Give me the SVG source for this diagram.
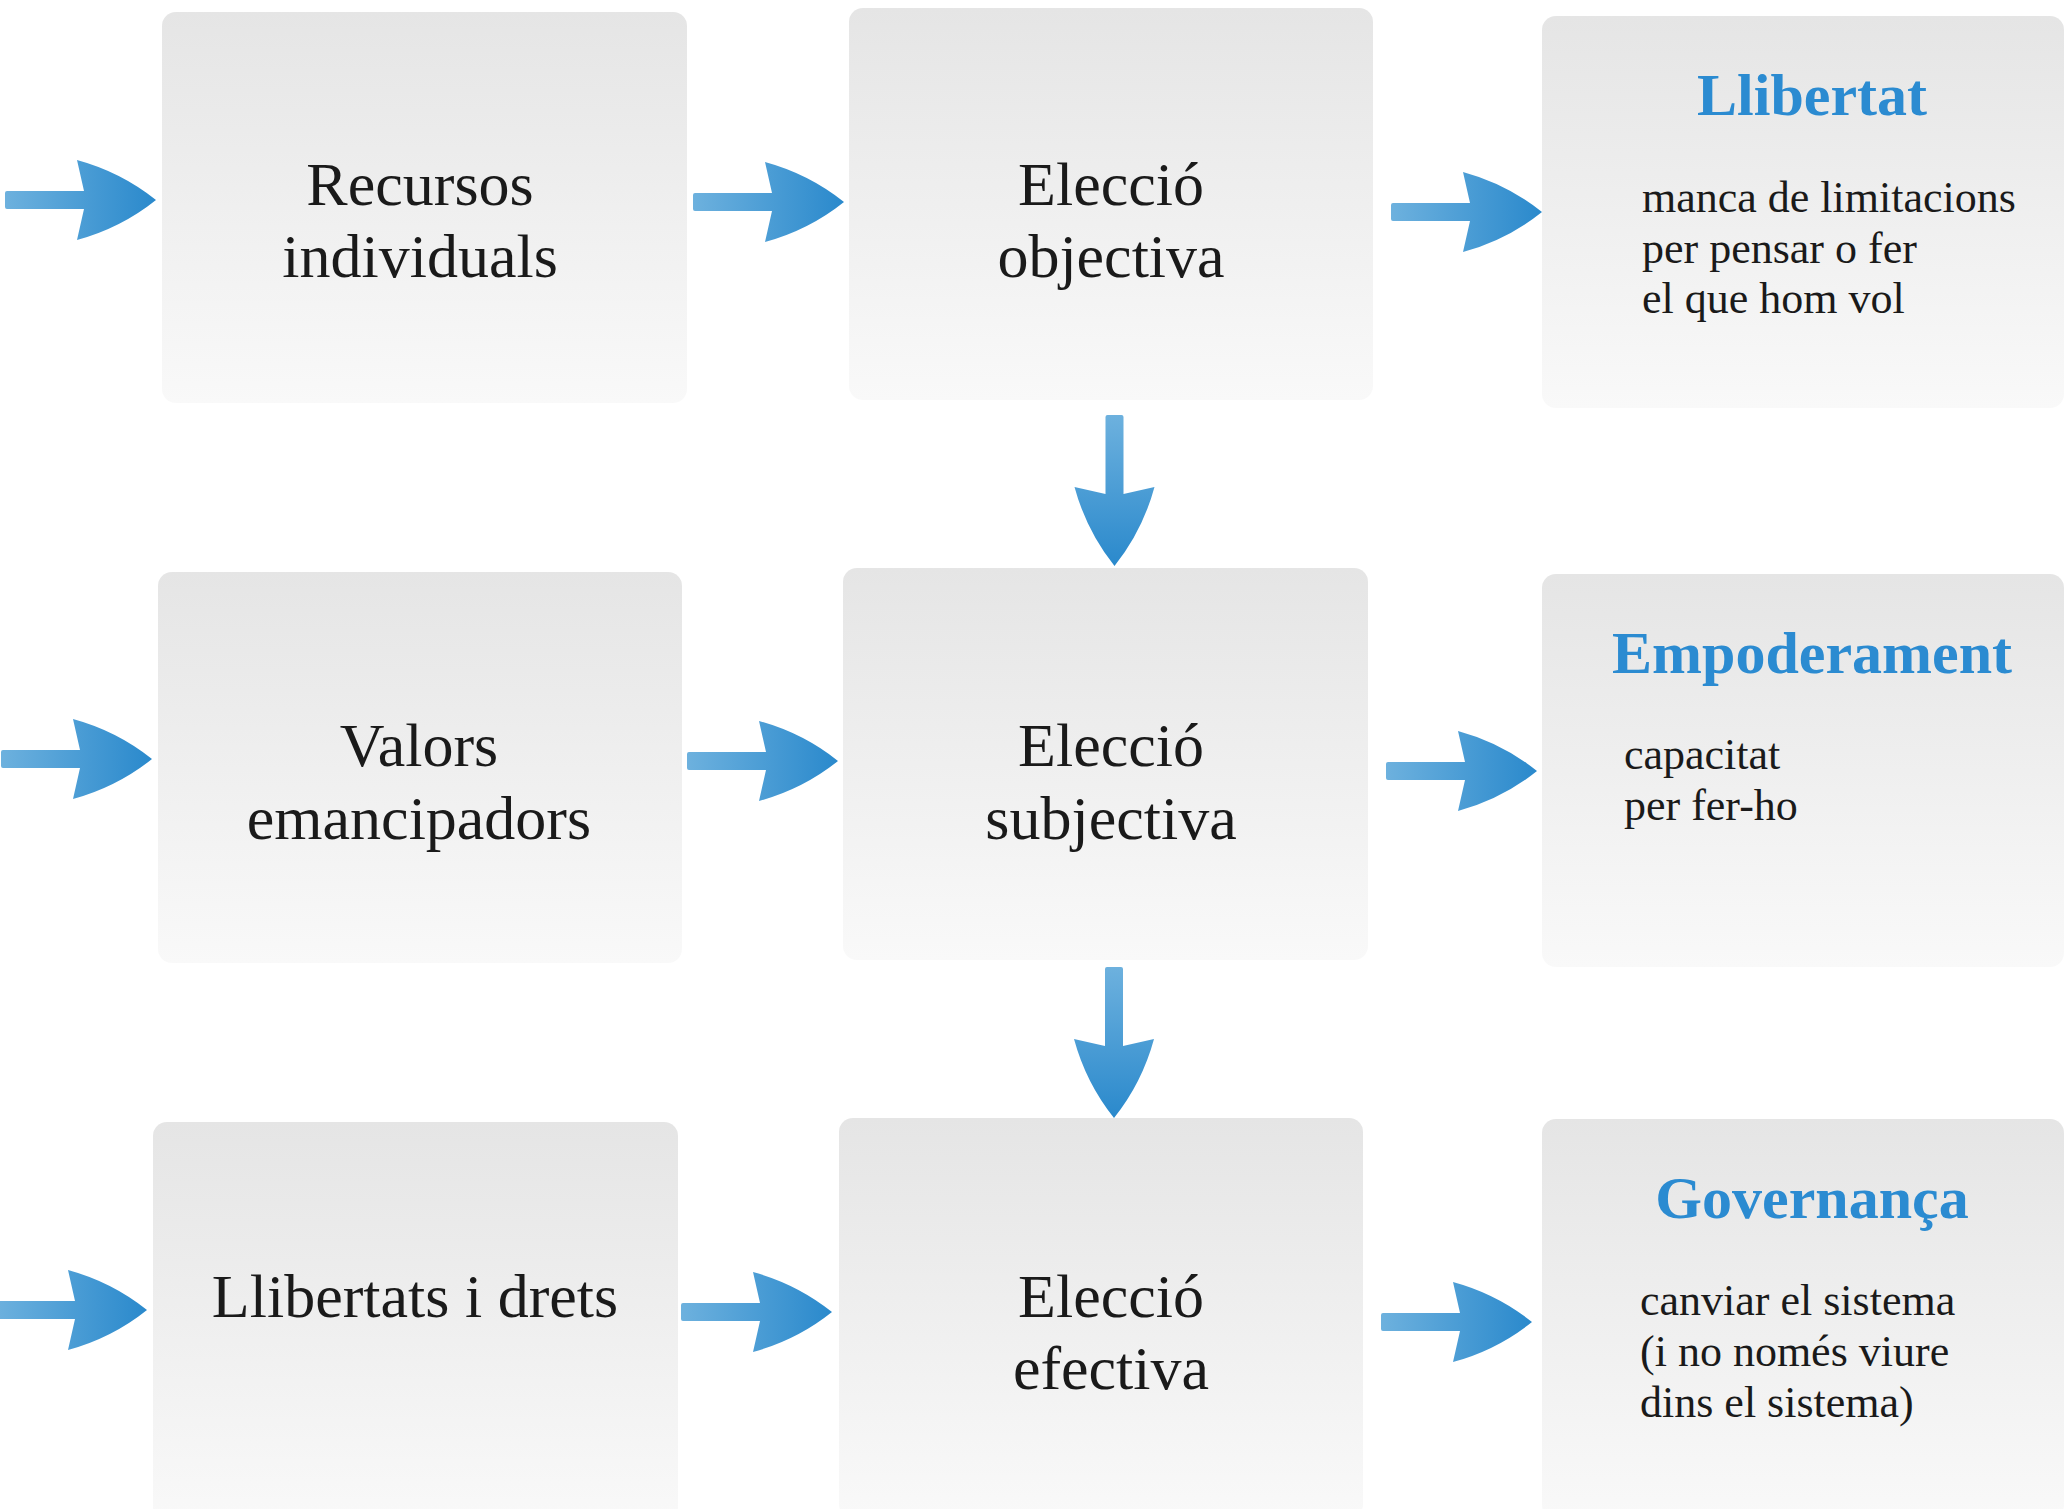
<svg xmlns="http://www.w3.org/2000/svg" width="2065" height="1509" viewBox="0 0 2065 1509">
  <defs>
    <linearGradient id="boxGrad" x1="0" y1="0" x2="0" y2="1">
      <stop offset="0" stop-color="#e5e5e5"/>
      <stop offset="1" stop-color="#f9f9f9"/>
    </linearGradient>
    <linearGradient id="arrowGrad" x1="0" y1="0" x2="1" y2="0">
      <stop offset="0" stop-color="#6db1de"/>
      <stop offset="1" stop-color="#2a89cc"/>
    </linearGradient>
    <path id="arrow" d="M0,-7 Q0,-9 2,-9 L79,-9 L72,-40 Q116,-28 151,0 Q116,28 72,40 L79,9 L2,9 Q0,9 0,7 Z" fill="url(#arrowGrad)"/>
  </defs>
  <style>
    .box { fill: url(#boxGrad); }
    .main { font-family: "Liberation Serif", "Times New Roman", serif; font-size: 62px; fill: #1a1a1a; text-anchor: middle; }
    .title { font-family: "Liberation Serif", "Times New Roman", serif; font-size: 60px; font-weight: bold; fill: #2b8bd1; text-anchor: middle; }
    .desc { font-family: "Liberation Serif", "Times New Roman", serif; font-size: 44px; fill: #1a1a1a; }
  </style>
  <rect width="2065" height="1509" fill="#ffffff"/>

  <g id="recursos">
    <rect class="box" x="162" y="12" width="525" height="391" rx="14"/>
    <text class="main" x="420" y="205">Recursos</text>
    <text class="main" x="420" y="277">individuals</text>
  </g>
  <g id="eleccio-objectiva">
    <rect class="box" x="849" y="8" width="524" height="392" rx="14"/>
    <text class="main" x="1111" y="205">Elecció</text>
    <text class="main" x="1111" y="277">objectiva</text>
  </g>
  <g id="llibertat">
    <rect class="box" x="1542" y="16" width="522" height="392" rx="14"/>
    <text class="title" x="1812" y="115">Llibertat</text>
    <text class="desc" x="1642" y="212">manca de limitacions</text>
    <text class="desc" x="1642" y="263">per pensar o fer</text>
    <text class="desc" x="1642" y="313">el que hom vol</text>
  </g>

  <g id="valors">
    <rect class="box" x="158" y="572" width="524" height="391" rx="14"/>
    <text class="main" x="419" y="766">Valors</text>
    <text class="main" x="419" y="839">emancipadors</text>
  </g>
  <g id="eleccio-subjectiva">
    <rect class="box" x="843" y="568" width="525" height="392" rx="14"/>
    <text class="main" x="1111" y="766">Elecció</text>
    <text class="main" x="1111" y="839">subjectiva</text>
  </g>
  <g id="empoderament">
    <rect class="box" x="1542" y="574" width="522" height="393" rx="14"/>
    <text class="title" x="1812" y="673">Empoderament</text>
    <text class="desc" x="1624" y="769">capacitat</text>
    <text class="desc" x="1624" y="820">per fer-ho</text>
  </g>

  <g id="llibertats-drets">
    <rect class="box" x="153" y="1122" width="525" height="400" rx="14"/>
    <text class="main" x="415" y="1317">Llibertats i drets</text>
  </g>
  <g id="eleccio-efectiva">
    <rect class="box" x="839" y="1118" width="524" height="400" rx="14"/>
    <text class="main" x="1111" y="1317">Elecció</text>
    <text class="main" x="1111" y="1389">efectiva</text>
  </g>
  <g id="governanca">
    <rect class="box" x="1542" y="1119" width="522" height="400" rx="14"/>
    <text class="title" x="1812" y="1218">Governança</text>
    <text class="desc" x="1640" y="1315">canviar el sistema</text>
    <text class="desc" x="1640" y="1366">(i no només viure</text>
    <text class="desc" x="1640" y="1417">dins el sistema)</text>
  </g>

  <g id="connectors">
    <use href="#arrow" transform="translate(5,200)"/>
    <use href="#arrow" transform="translate(693,202)"/>
    <use href="#arrow" transform="translate(1391,212)"/>
    <use href="#arrow" transform="translate(1,759)"/>
    <use href="#arrow" transform="translate(687,761)"/>
    <use href="#arrow" transform="translate(1386,771)"/>
    <use href="#arrow" transform="translate(-4,1310)"/>
    <use href="#arrow" transform="translate(681,1312)"/>
    <use href="#arrow" transform="translate(1381,1322)"/>
    <use href="#arrow" transform="translate(1114.5,415) rotate(90)"/>
    <use href="#arrow" transform="translate(1114,967) rotate(90)"/>
  </g>
</svg>
